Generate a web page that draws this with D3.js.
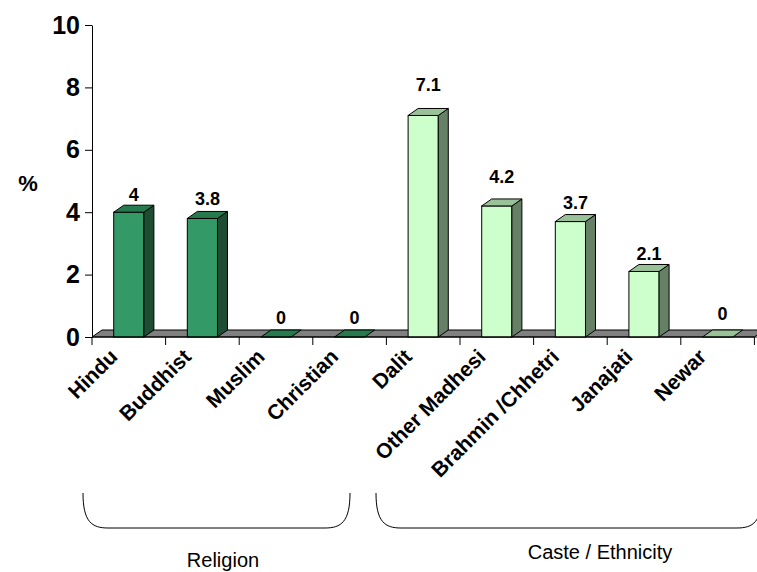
<!DOCTYPE html>
<html>
<head>
<meta charset="utf-8">
<script src="https://cdn.jsdelivr.net/npm/d3@7"></script>
<style>
  html, body { margin: 0; padding: 0; background: #fff; }
  svg { display: block; font-family: "Liberation Sans", Arial, sans-serif; }
</style>
</head>
<body>
<script>
// Share (%) by religion and by caste / ethnicity
const categories = ["Hindu", "Buddhist", "Muslim", "Christian", "Dalit", "Other Madhesi", "Brahmin /Chhetri", "Janajati", "Newar"];
const groupOf = ["religion", "religion", "religion", "religion", "caste", "caste", "caste", "caste", "caste"];
const values = [4, 3.8, 0, 0, 7.1, 4.2, 3.7, 2.1, 0];
const yTicks = [0, 2, 4, 6, 8, 10];
const groupTitles = ["Religion", "Caste / Ethnicity"];

// ---- layout ----
const W = 757, H = 572;
const DX = 10, DY = 7;              // depth of the 3-D effect
const labelLift = [4, 6, 6, 6, 17, 16, 6, 4, 10];  // space between bar top and its value label
const palette = {
  religion: { front: "#339966", side: "#1e4d33", top: "#267a4d" },
  caste:    { front: "#ccffcc", side: "#668066", top: "#99c299" }
};

const svg = d3.select("body").append("svg").attr("width", W).attr("height", H);

const x = d3.scaleBand().domain(categories).range([92, 754.4]);
const y = d3.scaleLinear().domain([0, 10]).range([337, 25]);
const bw = x.step() * 0.41;
const cx = c => x(c) + x.bandwidth() / 2;
const y0 = y(0);

// floor
const xEnd = x.range()[1];
svg.append("polygon")
  .attr("points", [[x.range()[0], y0], [xEnd, y0], [xEnd + DX, y0 - DY], [x.range()[0] + DX, y0 - DY]].join(" "))
  .attr("fill", "#808080").attr("stroke", "#000").attr("stroke-width", 1);

// bars
const bars = svg.append("g").selectAll("g").data(categories).join("g");
bars.each(function (c, i) {
  const g = d3.select(this);
  const col = palette[groupOf[i]];
  const v = values[i];
  const x0 = cx(c) - bw / 2, x1 = x0 + bw, yt = y(v);
  if (v > 0) {
    g.append("rect").attr("x", x0).attr("y", yt).attr("width", bw).attr("height", y0 - yt)
      .attr("fill", col.front).attr("stroke", "#000");
    g.append("polygon")
      .attr("points", [[x1, yt], [x1 + DX, yt - DY], [x1 + DX, y0 - DY], [x1, y0]].join(" "))
      .attr("fill", col.side).attr("stroke", "#000");
  }
  g.append("polygon")
    .attr("points", [[x0, yt], [x0 + DX, yt - DY], [x1 + DX, yt - DY], [x1, yt]].join(" "))
    .attr("fill", col.top).attr("stroke", "#000");
});

// value labels
svg.append("g").selectAll("text").data(categories).join("text")
  .attr("x", c => cx(c) + DX / 2)
  .attr("y", (c, i) => y(values[i]) - DY - labelLift[i])
  .attr("text-anchor", "middle")
  .attr("font-size", 18).attr("font-weight", "bold")
  .text((c, i) => values[i]);

// y axis
const yAxis = svg.append("g").attr("transform", `translate(${x.range()[0]},0)`)
  .call(d3.axisLeft(y).tickValues(yTicks).tickSize(7).tickSizeOuter(0).tickPadding(5));
yAxis.select(".domain").attr("stroke", "#000");
yAxis.selectAll("line").attr("stroke", "#000");
yAxis.selectAll("text").attr("font-size", 25).attr("font-weight", "bold")
  .attr("font-family", "Liberation Sans, Arial, sans-serif").attr("fill", "#000");

svg.append("text").attr("x", 28).attr("y", 191).attr("text-anchor", "middle")
  .attr("font-size", 22).attr("font-weight", "bold").text("%");

// x axis line and category separators
svg.append("line").attr("x1", x.range()[0]).attr("x2", W).attr("y1", y0).attr("y2", y0).attr("stroke", "#000");
const bounds = categories.map(c => x(c)).concat([xEnd]);
svg.append("g").selectAll("line").data(bounds).join("line")
  .attr("x1", d => d).attr("x2", d => d).attr("y1", y0).attr("y2", y0 + 8).attr("stroke", "#000");

// category labels
svg.append("g").selectAll("text").data(categories).join("text")
  .attr("transform", c => `translate(${cx(c) - 10},${y0 + 21}) rotate(-45)`)
  .attr("text-anchor", "end")
  .attr("font-size", 21).attr("font-weight", "bold")
  .text(c => c);

// group braces
function brace(xl, xr, top, bottom) {
  const r = 25;
  return `M${xl},${top} C${xl},${bottom - 6} ${xl + 9},${bottom} ${xl + r},${bottom}` +
         ` L${xr - r},${bottom} C${xr - 9},${bottom} ${xr},${bottom - 6} ${xr},${top}`;
}
svg.append("path").attr("d", brace(83, 350, 493, 528)).attr("fill", "none").attr("stroke", "#000");
svg.append("path").attr("d", brace(376, 762, 493, 528)).attr("fill", "none").attr("stroke", "#000");

svg.append("text").attr("x", 223).attr("y", 567).attr("text-anchor", "middle")
  .attr("font-size", 20).text(groupTitles[0]);
svg.append("text").attr("x", 600).attr("y", 559).attr("text-anchor", "middle")
  .attr("font-size", 20).text(groupTitles[1]);
</script>
</body>
</html>
